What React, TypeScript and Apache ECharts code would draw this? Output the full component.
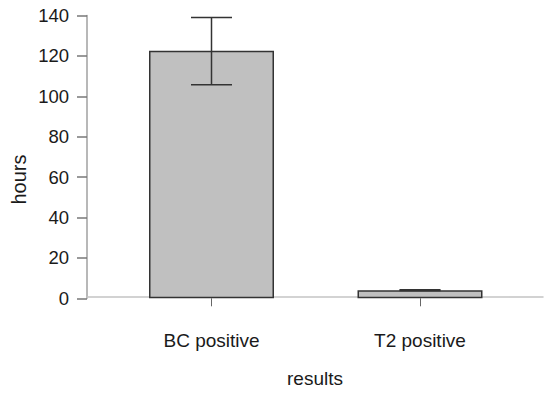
import React, { useEffect, useRef } from "react";
import * as echarts from "echarts";

const categories = ["BC positive", "T2 positive"];
const meanValues = [122.5, 4.0];
const errLow = [105.7, 3.8];
const errHigh = [139.0, 4.2];
const yTicks = { min: 0, max: 140, interval: 20 };
const xAxisTitle = "results";
const yAxisTitle = "hours";

const FONT = "Liberation Sans, Arial, sans-serif";
const TEXT = "#1a1a1a";

export default function App() {
  const ref = useRef<HTMLDivElement>(null);
  useEffect(() => {
    if (!ref.current) return;
    const chart = echarts.init(ref.current, null, { renderer: "svg" });
    const errData = categories.map((_, i) => [i, errLow[i], errHigh[i]]);
    chart.setOption({
      animation: false,
      textStyle: { fontFamily: FONT },
      grid: [
        { left: 107.25, right: 25.75, top: 15.5, bottom: 94.7 },
        { left: 87, right: 7, top: 62, bottom: 94.7 },
      ],
      xAxis: [
        {
          type: "category",
          gridIndex: 0,
          data: categories,
          offset: 17,
          axisLine: { show: false },
          axisTick: { show: true, alignWithLabel: true, length: 8, lineStyle: { color: "#666", width: 1 } },
          axisLabel: { color: TEXT, fontSize: 19, fontFamily: FONT, margin: 16 },
        },
        {
          type: "value",
          gridIndex: 1,
          min: 0,
          max: 1,
          name: xAxisTitle,
          nameLocation: "middle",
          nameGap: 72,
          nameTextStyle: { color: TEXT, fontSize: 19, fontFamily: FONT },
          axisLine: { show: true, lineStyle: { color: "#c4c4c4", width: 1.5 } },
          axisTick: { show: false },
          axisLabel: { show: false },
          splitLine: { show: false },
        },
      ],
      yAxis: [
        {
          type: "value",
          gridIndex: 0,
          min: yTicks.min,
          max: yTicks.max,
          interval: yTicks.interval,
          offset: 20.25,
          axisLine: { show: true, lineStyle: { color: "#a0a0a0", width: 1.5 } },
          axisTick: { show: true, length: 10, lineStyle: { color: "#777", width: 1.5 } },
          axisLabel: { color: TEXT, fontSize: 18.5, fontFamily: FONT, margin: 18 },
          splitLine: { show: false },
        },
        {
          type: "value",
          gridIndex: 1,
          name: yAxisTitle,
          nameLocation: "middle",
          nameGap: 58,
          nameTextStyle: { color: TEXT, fontSize: 20, fontFamily: FONT },
          axisLine: { show: false },
          axisTick: { show: false },
          axisLabel: { show: false },
          splitLine: { show: false },
        },
      ],
      series: [
        {
          type: "bar",
          xAxisIndex: 0,
          yAxisIndex: 0,
          data: meanValues,
          barWidth: 125,
          itemStyle: { color: "#c0c0c0", borderColor: "#333", borderWidth: 1.5 },
        },
        {
          type: "custom",
          xAxisIndex: 0,
          yAxisIndex: 0,
          data: errData,
          z: 10,
          renderItem: (params: any, api: any) => {
            const x = api.value(0);
            const lo = api.coord([x, api.value(1)]);
            const hi = api.coord([x, api.value(2)]);
            const hw = 20.5;
            const style = { stroke: "#333", lineWidth: 1.5 };
            return {
              type: "group",
              children: [
                { type: "line", shape: { x1: lo[0], y1: lo[1], x2: hi[0], y2: hi[1] }, style },
                { type: "line", shape: { x1: lo[0] - hw, y1: lo[1], x2: lo[0] + hw, y2: lo[1] }, style },
                { type: "line", shape: { x1: hi[0] - hw, y1: hi[1], x2: hi[0] + hw, y2: hi[1] }, style },
              ],
            };
          },
        },
      ],
    });
    return () => chart.dispose();
  }, []);
  return <div ref={ref} style={{ width: 550, height: 393, position: "absolute", left: 0, top: 0 }} />;
}
